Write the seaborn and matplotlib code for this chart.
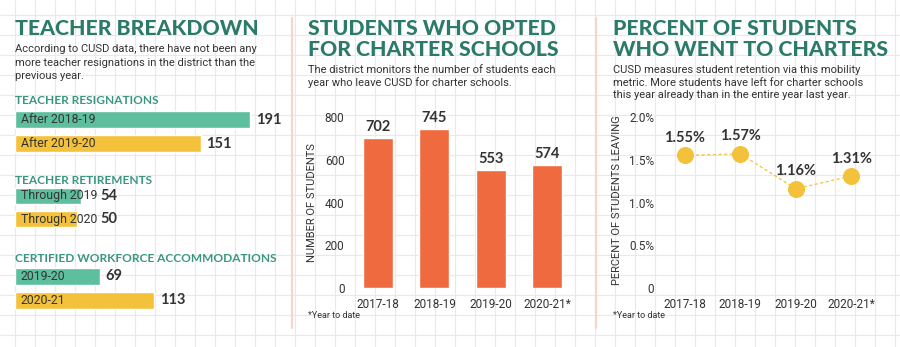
import matplotlib
matplotlib.use("Agg")
import matplotlib.pyplot as plt
import seaborn as sns
import pandas as pd

# ---------------- data ----------------
resign_labels = ["After 2018-19", "After 2019-20"]
resign_values = [191, 151]
retire_labels = ["Through 2019", "Through 2020"]
retire_values = [54, 50]
accom_labels = ["2019-20", "2020-21"]
accom_values = [69, 113]

charter_years = ["2017-18", "2018-19", "2019-20", "2020-21*"]
charter_students = [702, 745, 553, 574]
student_ticks = [0, 200, 400, 600, 800]

pct_leaving = [1.55, 1.57, 1.16, 1.31]
pct_ticks = [0, 0.5, 1.0, 1.5, 2.0]
pct_tick_labels = ["0", "0.5%", "1.0%", "1.5%", "2.0%"]

# ---------------- style ----------------
TITLE = "#2b7a6a"
HEAD = "#3a9683"
GREEN = "#5dbf9d"
YELLOW = "#f3c13a"
ORANGE = "#ef6a3e"
TXT = "#333333"
GRID = "#e6eaef"
SEP = "#f6d6ca"

sns.set_theme(style="white")
BODY = ["Roboto", "DejaVu Sans"]
HEAVY = ["Lato", "Roboto", "DejaVu Sans"]
plt.rcParams["font.family"] = BODY

W, H = 900, 347
fig = plt.figure(figsize=(W / 100, H / 100), dpi=100)
fig.patch.set_facecolor("white")


def px_axes(left, top, right, bottom, z=1):
    ax = fig.add_axes([left / W, 1 - bottom / H, (right - left) / W, (bottom - top) / H])
    ax.set_zorder(z)
    ax.patch.set_alpha(0)
    return ax


# background graph paper + separators + texts
bg = px_axes(0, 0, W, H, z=0)
bg.set_xlim(0, W)
bg.set_ylim(H, 0)
bg.axis("off")
for gx in range(15, W, 20):
    bg.axvline(gx, color=GRID, lw=0.8, zorder=0)
for gy in range(15, H, 20):
    bg.axhline(gy, color=GRID, lw=0.8, zorder=0)
bg.plot([292, 292], [18, 328], color=SEP, lw=1.6)
bg.plot([596, 596], [18, 328], color=SEP, lw=1.6)


def title(x, y, s):
    bg.text(x, y, s, ha="left", va="center", color=TITLE, fontsize=15.3,
            fontweight="black", family=HEAVY)


def body(x, y, s, size=8.0, **kw):
    bg.text(x, y, s, ha="left", va="center", color=TXT, fontsize=size, **kw)


title(15, 28, "TEACHER BREAKDOWN")
body(15, 49, "According to CUSD data, there have not been any")
body(15, 62.5, "more teacher resignations in the district than the")
body(15, 76, "previous year.")

title(308, 28, "STUDENTS WHO OPTED")
title(308, 49, "FOR CHARTER SCHOOLS")
body(308, 70, "The district monitors the number of students each")
body(308, 82.5, "year who leave CUSD for charter schools.")

title(613, 28, "PERCENT OF STUDENTS")
title(613, 49, "WHO WENT TO CHARTERS")
body(613, 70, "CUSD measures student retention via this mobility")
body(613, 82.5, "metric. More students have left for charter schools")
body(613, 95, "this year already than in the entire year last year.")

for hx, hy, hs in [(15, 100, "TEACHER RESIGNATIONS"), (15, 180, "TEACHER RETIREMENTS"),
                   (15, 259, "CERTIFIED WORKFORCE ACCOMMODATIONS")]:
    bg.text(hx, hy, hs, ha="left", va="center", color=HEAD, fontsize=8.6,
            fontweight="bold", family=HEAVY)

body(308, 316, "*Year to date", size=6.5)
body(613, 316, "*Year to date", size=6.5)

# ---------------- left panel: horizontal bar groups ----------------
scale = 235 / 191  # px per unit
groups = [
    (resign_labels, resign_values, 107.5, 155.5, None),
    (retire_labels, retire_values, 184.5, 230.5, 69),
    (accom_labels, accom_values, 264.5, 312.5, None),
]
for labels, values, top, bottom, val_pos in groups:
    ax = px_axes(15, top, 285, bottom)
    df = pd.DataFrame({"label": labels, "value": values})
    sns.barplot(data=df, x="value", y="label", hue="label", palette=[GREEN, YELLOW],
                orient="h", width=0.71, saturation=1, legend=False, ax=ax)
    ax.set_xlim(0, 270 / scale)
    ax.set_ylim(1.5, -0.5)
    ax.axis("off")
    for i, (lab, v) in enumerate(zip(labels, values)):
        ax.annotate(lab, (0, i), xytext=(4, 0), textcoords="offset points",
                    ha="left", va="center", fontsize=8.8, color=TXT)
        xpos = v if val_pos is None else max(v, val_pos)
        ax.annotate(str(v), (xpos, i), xytext=(4 if val_pos is None else 0, 0),
                    textcoords="offset points", ha="left", va="center",
                    fontsize=10.5, fontweight="bold", color=TXT, family=HEAVY)

# ---------------- middle panel: column chart ----------------
s2 = 171 / 800
ax2 = px_axes(350, 288 - 850 * s2, 575, 288)
df2 = pd.DataFrame({"year": charter_years, "students": charter_students})
sns.barplot(data=df2, x="year", y="students", color=ORANGE, saturation=1,
            width=0.53, ax=ax2)
ax2.set_xlim(-0.5, 3.5)
ax2.set_ylim(0, 850)
ax2.set_yticks(student_ticks)
ax2.bar_label(ax2.containers[0], padding=3, fontsize=10.5, fontweight="bold",
              color=TXT, family=HEAVY)
ax2.set_xlabel("")
ax2.set_ylabel("NUMBER OF STUDENTS", fontsize=8, color=TXT)
ax2.yaxis.set_label_coords((312 - 350) / 225, (288 - 202) / (850 * s2))
ax2.yaxis.label.set_va("center")
ax2.tick_params(axis="both", length=0, labelsize=8.5, colors=TXT)
ax2.tick_params(axis="x", pad=7)
ax2.tick_params(axis="y", pad=4)
sns.despine(ax=ax2, left=True, bottom=True)

# ---------------- right panel: line chart ----------------
s3 = 85.5
ax3 = px_axes(657, 288 - 2.1 * s3, 879, 288)
df3 = pd.DataFrame({"year": charter_years, "pct": pct_leaving})
sns.lineplot(data=df3, x="year", y="pct", color=YELLOW, lw=0.9, sort=False,
             linestyle=(0, (2.5, 2)), ax=ax3)
sns.scatterplot(data=df3, x="year", y="pct", color=YELLOW, s=150, linewidth=0,
                ax=ax3, zorder=3)
ax3.set_xlim(-0.5, 3.5)
ax3.set_ylim(0, 2.1)
ax3.set_yticks(pct_ticks, pct_tick_labels)
for i, v in enumerate(pct_leaving):
    ax3.annotate(f"{v:.2f}%", (i, v), xytext=(0, 12.5), textcoords="offset points",
                 ha="center", va="center", fontsize=10.5, fontweight="bold",
                 color=TXT, family=HEAVY)
ax3.set_xlabel("")
ax3.set_ylabel("PERCENT OF STUDENTS LEAVING", fontsize=8, color=TXT)
ax3.yaxis.set_label_coords((617 - 657) / 222, (288 - 200) / (2.1 * s3))
ax3.yaxis.label.set_va("center")
ax3.tick_params(axis="both", length=0, labelsize=8.5, colors=TXT)
ax3.tick_params(axis="x", pad=7)
ax3.tick_params(axis="y", pad=2)
sns.despine(ax=ax3, left=True, bottom=True)

fig.savefig("out.png", dpi=100, facecolor="white")
